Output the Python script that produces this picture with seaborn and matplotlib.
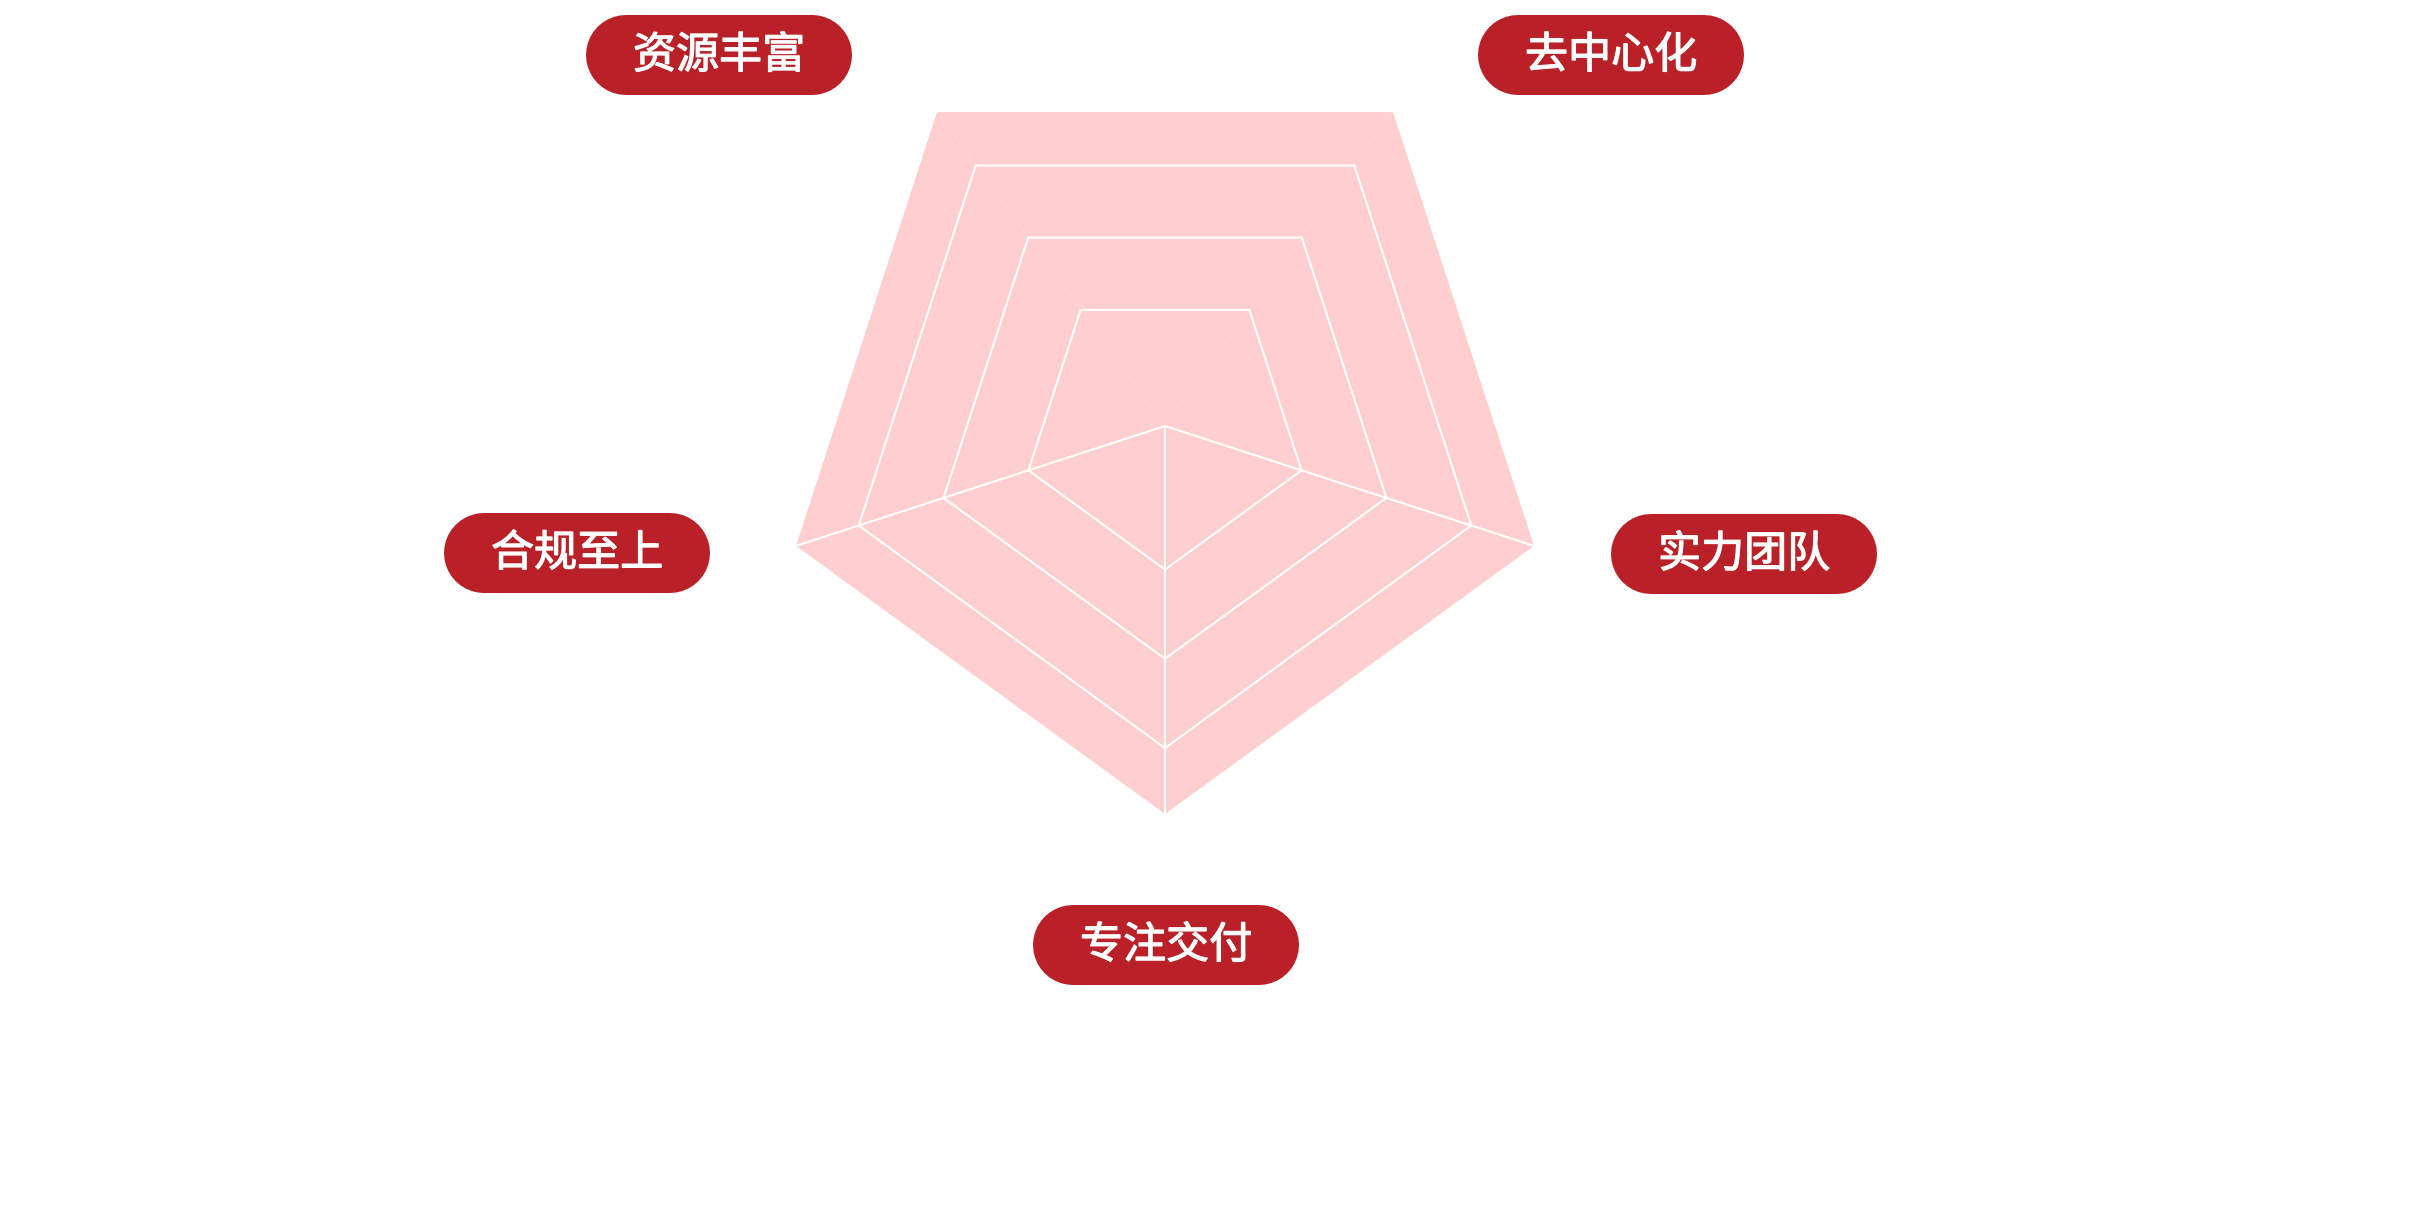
import numpy as np
import matplotlib
matplotlib.use("Agg")
import matplotlib.pyplot as plt
import matplotlib.patheffects as pe
import seaborn as sns

sns.set_theme(style="white")
plt.rcParams['font.family'] = ['Noto Sans CJK SC', 'DejaVu Sans']

# ---- data ----
indicators = ['去中心化', '实力团队', '专注交付', '合规至上', '资源丰富']
ring_values = [100, 83, 60, 37]          # concentric series values (max = 100)
max_value = 100

# ---- layout ----
W, H = 2420, 1210
cx, cy = 1165, 426
R = 388
angles_deg = np.array([54, -18, -90, -162, -234], dtype=float)
angles = np.deg2rad(angles_deg)
label_pos = {
    '去中心化': (1611, 55),
    '实力团队': (1744, 554),
    '专注交付': (1166, 945),
    '合规至上': (577, 553),
    '资源丰富': (719, 55),
}
pink = '#FFCFD0'
red = '#B92027'

fig = plt.figure(figsize=(W / 100, H / 100), dpi=100)
ax = fig.add_axes([0, 0, 1, 1])
ax.set_xlim(0, W)
ax.set_ylim(H, 0)
ax.set_aspect('equal')
ax.axis('off')

def poly(v):
    r = R * v / max_value
    xs = cx + r * np.cos(angles)
    ys = cy - r * np.sin(angles)
    return np.append(xs, xs[0]), np.append(ys, ys[0])

# filled outer area
xs, ys = poly(ring_values[0])
ax.fill(xs, ys, color=pink, lw=0, zorder=1)

# ring lines
for v in ring_values[1:]:
    xs, ys = poly(v)
    ax.plot(xs, ys, color='white', lw=1.5, zorder=2, solid_joinstyle='miter')

# spokes
for a in angles:
    x1 = cx + R * np.cos(a)
    y1 = cy - R * np.sin(a)
    if np.sin(a) > 0.5:   # upper spokes: very faint dotted
        ax.plot([cx, x1], [cy, y1], color='white', lw=0.9, ls=(0, (1, 2)),
                alpha=0.3, zorder=2)
    else:
        ax.plot([cx, x1], [cy, y1], color='white', lw=1.5, zorder=2)

# label pills (line with round caps => stadium shape)
pill_w, pill_h = 266, 80
lw_pt = pill_h * 72 / 100
for name in indicators:
    x, y = label_pos[name]
    rad = pill_h / 2
    ax.plot([x - pill_w / 2 + rad, x + pill_w / 2 - rad], [y, y], color=red,
            lw=lw_pt, solid_capstyle='round', zorder=3)
    ax.text(x, y + 1, name, color='white', fontsize=31, fontweight='normal',
            ha='center', va='center', zorder=4,
            path_effects=[pe.withStroke(linewidth=0.9, foreground='white')])

fig.savefig('out.png', dpi=100, facecolor='white')
